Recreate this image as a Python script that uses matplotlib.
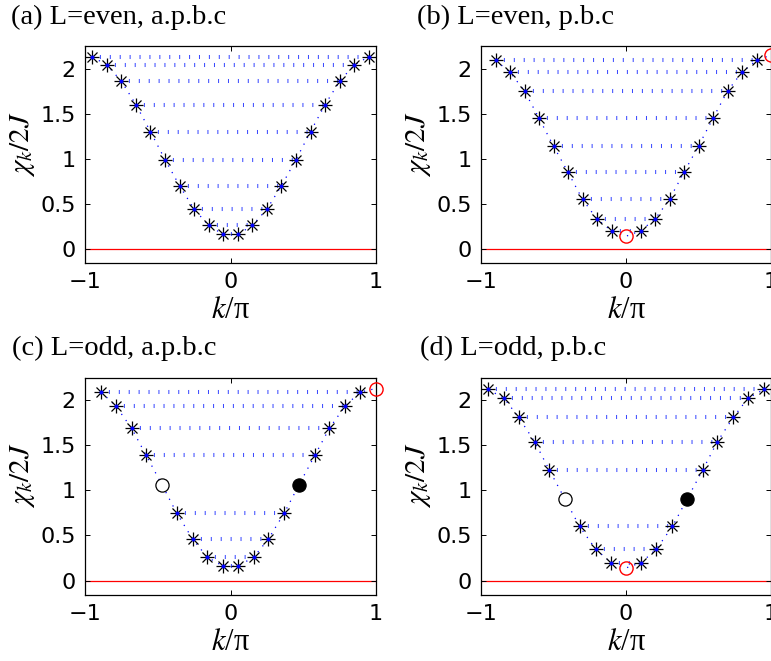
import matplotlib
matplotlib.use('Agg')
import matplotlib.pyplot as plt
import numpy as np

plt.rcParams['mathtext.fontset'] = 'stix'
plt.rcParams['font.family'] = ['DejaVu Sans']

# ---------------- data ----------------
# (a) L=even, a.p.b.c
ka_neg = [-0.95, -0.85, -0.75, -0.65, -0.55, -0.45, -0.35, -0.25, -0.15, -0.05]
ka_pos = [0.95, 0.85, 0.75, 0.65, 0.55, 0.45, 0.35, 0.25, 0.15, 0.05]
Ea = [2.13, 2.04, 1.86, 1.60, 1.30, 0.99, 0.70, 0.44, 0.26, 0.16]

# (b) L=even, p.b.c
kb_neg = [-0.9, -0.8, -0.7, -0.6, -0.5, -0.4, -0.3, -0.2, -0.1]
kb_pos = [0.9, 0.8, 0.7, 0.6, 0.5, 0.4, 0.3, 0.2, 0.1]
Eb = [2.09, 1.96, 1.75, 1.45, 1.14, 0.85, 0.55, 0.33, 0.20]
kb_red = [0.0, 1.0]
Eb_red = [0.14, 2.15]

# (c) L=odd, a.p.b.c
kc_neg = [-0.89, -0.79, -0.68, -0.58, -0.37, -0.26, -0.16, -0.05]
kc_pos = [0.89, 0.79, 0.68, 0.58, 0.37, 0.26, 0.16, 0.05]
Ec = [2.09, 1.94, 1.69, 1.39, 0.75, 0.46, 0.26, 0.16]
kc_open = [-0.47]
kc_fill = [0.47]
Ec_gap = [1.06]
kc_red = [1.0]
Ec_red = [2.13]

# (d) L=odd, p.b.c
kd_neg = [-0.95, -0.84, -0.74, -0.63, -0.53, -0.32, -0.21, -0.105]
kd_pos = [0.95, 0.84, 0.74, 0.63, 0.53, 0.32, 0.21, 0.105]
Ed = [2.12, 2.02, 1.81, 1.54, 1.23, 0.60, 0.35, 0.20]
kd_open = [-0.42]
kd_fill = [0.42]
Ed_gap = [0.90]
kd_red = [0.0]
Ed_red = [0.14]

titles = ['(a) L=even, a.p.b.c', '(b) L=even, p.b.c',
          '(c) L=odd, a.p.b.c', '(d) L=odd, p.b.c']

panels = [
    dict(neg=ka_neg, pos=ka_pos, E=Ea, red=([], []), gap=None),
    dict(neg=kb_neg, pos=kb_pos, E=Eb, red=(kb_red, Eb_red), gap=None),
    dict(neg=kc_neg, pos=kc_pos, E=Ec, red=(kc_red, Ec_red), gap=(kc_open, kc_fill, Ec_gap)),
    dict(neg=kd_neg, pos=kd_pos, E=Ed, red=(kd_red, Ed_red), gap=(kd_open, kd_fill, Ed_gap)),
]

W, H = 771, 661
fig = plt.figure(figsize=(W / 100, H / 100), dpi=100)

# axes rectangles in pixels: left, top, right, bottom
rects = [(85, 46, 376, 263.3), (481, 46, 771, 263.3),
         (85, 377.7, 376, 595), (481, 377.7, 771, 595)]
title_pos = [(11, 17), (417, 17), (12, 348), (420, 348)]

dash_color = '#3848ff'

for i, (p, r) in enumerate(zip(panels, rects)):
    l, t, rr, b = r
    ax = fig.add_axes([l / W, 1 - b / H, (rr - l) / W, (b - t) / H])
    ax.set_xlim(-1, 1)
    ax.set_ylim(-0.16, 2.25)

    ax.axhline(0, color='red', lw=0.9, zorder=1)

    # dispersion curve (dotted, through all points)
    ks = list(p['neg']) + list(p['pos'])
    Es = list(p['E']) + list(p['E'])
    if p['gap'] is not None:
        ks += list(p['gap'][0]) + list(p['gap'][1])
        Es += list(p['gap'][2]) + list(p['gap'][2])
    ks += list(p['red'][0])
    Es += list(p['red'][1])
    order = np.argsort(ks)
    ax.plot(np.array(ks)[order], np.array(Es)[order], color='blue', lw=0.9,
            ls=(0, (1, 5)), zorder=2)

    # horizontal rows between pairs
    for kn, kp, e in zip(p['neg'], p['pos'], p['E']):
        ax.plot([kn, kp], [e, e], color=dash_color, lw=2.9,
                ls=(0.5, (0.25, 2.21)), solid_capstyle='butt', zorder=2)

    # asterisks
    kall = list(p['neg']) + list(p['pos'])
    Eall = list(p['E']) + list(p['E'])
    ax.plot(kall, Eall, '+', color='k', ms=9.5, mew=0.9, zorder=4, clip_on=False)
    ax.plot(kall, Eall, 'x', color='k', ms=6.8, mew=0.9, zorder=4, clip_on=False)
    ax.plot(kall, Eall, '.', color='blue', ms=3.8, zorder=5, clip_on=False)

    # gap states
    if p['gap'] is not None:
        ax.plot(p['gap'][0], p['gap'][2], 'o', mfc='white', mec='k', ms=9.5,
                mew=0.9, zorder=4)
        ax.plot(p['gap'][1], p['gap'][2], 'o', mfc='k', mec='k', ms=9.5,
                mew=0.9, zorder=4)
    # red excluded states
    if len(p['red'][0]):
        ax.plot(p['red'][0], p['red'][1], 'o', mfc='none', mec='red', ms=9.5,
                mew=1.0, zorder=6, clip_on=False)

    ax.set_xticks([-1, 0, 1])
    ax.set_xticklabels(['\u22121', '0', '1'])
    ax.set_yticks([0, 0.5, 1, 1.5, 2])
    ax.set_yticklabels(['0', '0.5', '1', '1.5', '2'])
    ax.tick_params(direction='in', length=3.5, width=0.7, top=True, right=True,
                   labelsize=16, pad=6.5)
    for s in ax.spines.values():
        s.set_linewidth(0.9)

    ax.set_ylabel(r'$\chi_k/2J$', fontsize=21)
    ax.yaxis.set_label_coords(-0.165, 0.55)
    ax.set_xlabel(r'$k$/π', fontsize=22, family=['Liberation Serif'])
    ax.xaxis.set_label_coords(0.5, -0.15)

    tx, ty = title_pos[i]
    fig.text(tx / W, 1 - ty / H, titles[i], fontsize=20.5,
             family=['Liberation Serif'], ha='left', va='center')

fig.savefig('out.png', dpi=100)
